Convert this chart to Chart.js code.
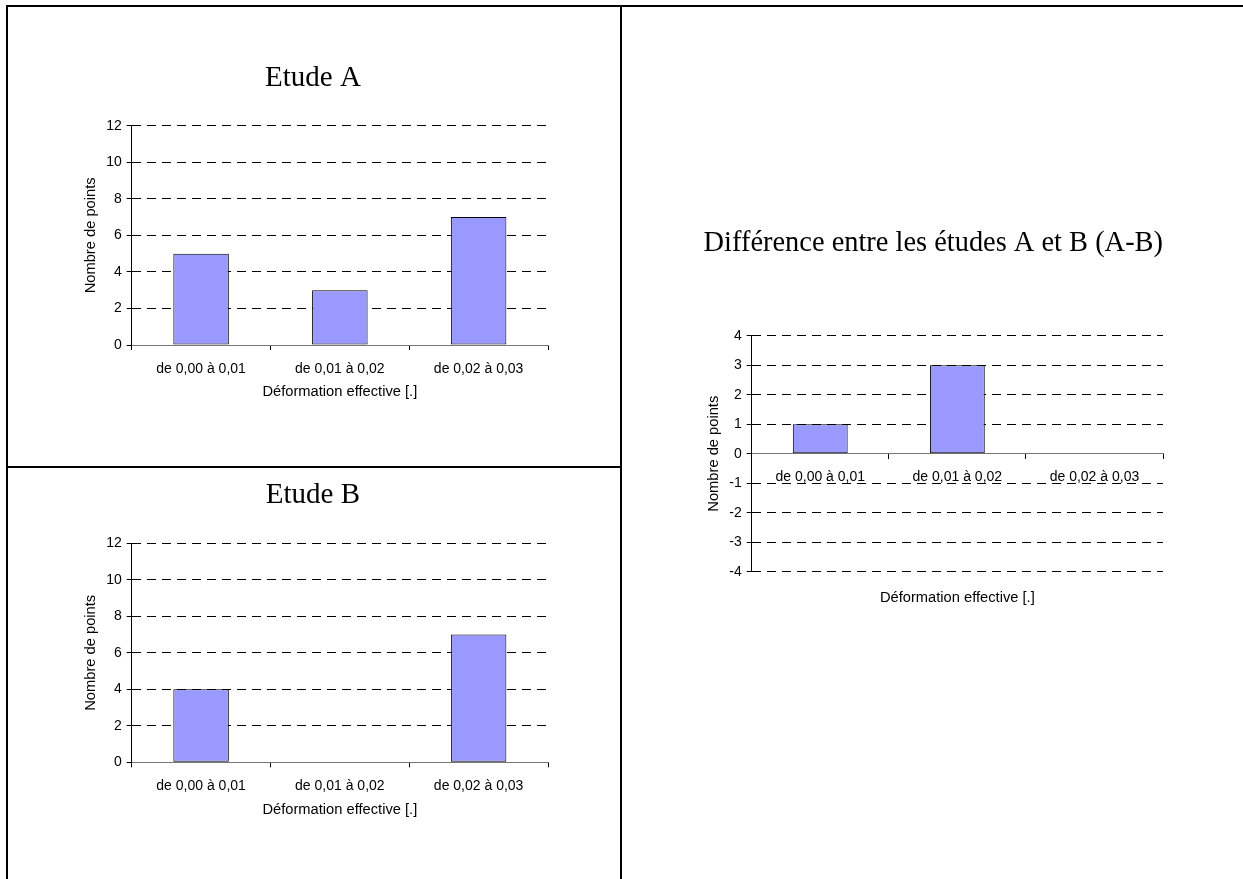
<!DOCTYPE html>
<html><head><meta charset="utf-8">
<script src="https://cdn.jsdelivr.net/npm/chart.js@4/dist/chart.umd.min.js"></script>
<style>
html,body{margin:0;padding:0;background:#fff;width:1243px;height:879px;overflow:hidden;position:relative}
.ln{position:absolute;background:#000}
canvas{position:absolute}
</style></head><body>
<div class="ln" style="left:6px;top:5px;width:1237px;height:2px"></div>
<div class="ln" style="left:6px;top:5px;width:2px;height:874px"></div>
<div class="ln" style="left:620px;top:5px;width:2px;height:874px"></div>
<div class="ln" style="left:6px;top:466px;width:616px;height:2px"></div>
<canvas id="cA"></canvas>
<canvas id="cB"></canvas>
<canvas id="cC"></canvas>
<script>
// ---- data ----
const categories = ['de 0,00 à 0,01', 'de 0,01 à 0,02', 'de 0,02 à 0,03'];
const etudeA = [5, 3, 7];
const etudeB = [4, 0, 7];
const differenceAB = [1, 3, 0];
const ticksAB = [0, 2, 4, 6, 8, 10, 12];
const ticksDiff = [-4, -3, -2, -1, 0, 1, 2, 3, 4];
const titleA = 'Etude A';
const titleB = 'Etude B';
const titleDiff = 'Différence entre les études A et B (A-B)';
const axisXTitle = 'Déformation effective [.]';
const axisYTitle = 'Nombre de points';

Chart.defaults.font.family = "'Liberation Sans', Arial, sans-serif";
Chart.defaults.color = '#000';

function build(id, values, title, yTicks, g, isDiff) {
  const cv = document.getElementById(id);
  cv.width = g.cw; cv.height = g.ch;
  cv.style.left = g.cl + 'px'; cv.style.top = g.ct + 'px';
  const fT = g.fT, lhT = fT * 1.2, fA = 14.7, lhA = fA * 1.2, fK = 14, lhK = fK * 1.2, tick = 5;
  const aL = g.aL - g.cl, aR = g.aR - g.cl, aT = g.aT - g.ct, aB = g.aB - g.ct;
  const L = 2 * (g.tX - g.cl) - aR, R = g.cw - aR;
  const yW = aL - L;
  const yTitlePad = (g.yTX - g.cl) - L - lhA / 2;
  const tMid = g.tY - g.ct;
  const tPadTop = tMid - lhT / 2, tPadBot = aT - tMid - lhT / 2;
  const H = g.xH;
  const zeroPix = isDiff ? (g.aT + g.aB) / 2 : g.aB;
  const xLabPad = g.xLY - zeroPix - tick - lhK / 2;
  const xTitlePadBot = (aB + H) - (g.xTY - g.ct) - lhA / 2;
  const padBottom = g.ch - (aB + H);
  const axisTitle = {display: true, text: axisXTitle, color: '#000', font: {size: fA}, padding: {top: 0, bottom: xTitlePadBot}};

  const scales = {
    x: {
      type: 'category',
      position: isDiff ? {y: 0} : 'bottom',
      offset: true,
      grid: {display: true, drawOnChartArea: false, drawTicks: true, tickLength: tick, tickColor: '#000', offset: true},
      border: {display: true, color: '#777', width: 1},
      ticks: {font: {size: fK}, color: '#000', padding: xLabPad, maxRotation: 0, autoSkip: false},
      title: isDiff ? {display: false} : axisTitle
    },
    y: {
      type: 'linear',
      position: 'left',
      min: yTicks[0], max: yTicks[yTicks.length - 1],
      afterBuildTicks: s => { s.ticks = yTicks.map(v => ({value: v})); },
      afterFit: s => { s.width = yW; },
      grid: {
        color: c => (c.tick && c.tick.value === 0) ? 'rgba(0,0,0,0)' : '#000',
        lineWidth: 1, drawTicks: true, tickLength: tick, tickColor: '#000', tickBorderDash: []
      },
      border: {display: true, color: '#000', width: 1, dash: [9, 6]},
      ticks: {font: {size: fK}, color: '#000', padding: 5},
      title: {display: true, text: axisYTitle, color: '#000', font: {size: fA}, padding: {top: yTitlePad, bottom: 0}}
    }
  };
  if (isDiff) {
    scales.x2 = {
      type: 'category', position: 'bottom', labels: categories,
      grid: {display: false}, border: {display: false}, ticks: {display: false},
      title: axisTitle,
      afterFit: s => { s.height = H; }
    };
  } else {
    scales.x.afterFit = s => { s.height = H; };
  }

  return new Chart(cv, {
    type: 'bar',
    data: {
      labels: categories,
      datasets: [{
        data: values, xAxisID: 'x', yAxisID: 'y',
        backgroundColor: '#9999FF', borderColor: '#000', borderWidth: 1, borderSkipped: false,
        barPercentage: 0.4, categoryPercentage: 1
      }]
    },
    options: {
      responsive: false, animation: false, devicePixelRatio: 1,
      layout: {padding: {left: L, right: R, top: 0, bottom: padBottom}},
      plugins: {
        legend: {display: false}, tooltip: {enabled: false},
        title: {display: true, text: title, color: '#000',
          font: {family: "'Liberation Serif', 'Times New Roman', serif", size: fT, weight: 'normal'},
          padding: {top: tPadTop, bottom: tPadBot}}
      },
      scales
    }
  });
}

build('cA', etudeA, titleA, ticksAB,
  {cl: 8, ct: 7, cw: 612, ch: 459, aL: 131.7, aR: 548, aT: 125.7, aB: 345, fT: 29,
   tX: 312.9, tY: 78, yTX: 90.7, xLY: 369, xTY: 392.2, xH: 70}, false);
build('cB', etudeB, titleB, ticksAB,
  {cl: 8, ct: 468, cw: 612, ch: 411, aL: 131.7, aR: 548, aT: 543.3, aB: 762.3, fT: 29,
   tX: 312.9, tY: 495.6, yTX: 90.7, xLY: 786.3, xTY: 809.5, xH: 70}, false);
build('cC', differenceAB, titleDiff, ticksDiff,
  {cl: 622, ct: 7, cw: 621, ch: 700, aL: 751.7, aR: 1163, aT: 335.7, aB: 571.7, fT: 29.8,
   tX: 933.3, tY: 243.5, yTX: 713.5, xLY: 476.8, xTY: 597.6, xH: 40}, true);
</script>
</body></html>
